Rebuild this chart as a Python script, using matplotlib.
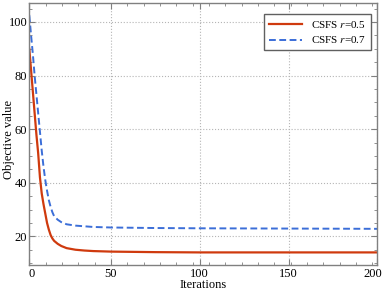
import matplotlib
matplotlib.use("Agg")
import matplotlib.pyplot as plt
import matplotlib.transforms as mtransforms
from matplotlib.ticker import AutoMinorLocator

# values
iters_r05 = [4, 5, 6, 7, 8, 9, 10, 11, 12, 13, 14, 15, 16, 17, 18, 20, 22, 25,
             30, 35, 40, 50, 75, 100, 150, 200]
obj_r05 = [90, 82, 74, 66, 58, 51, 42, 36, 32, 28.5, 25, 22.5, 20.5, 19.2, 18.3,
           17.2, 16.4, 15.6, 15.0, 14.7, 14.5, 14.3, 14.1, 14.0, 14.0, 14.0]

iters_r07 = [4, 5, 6, 7, 8, 9, 10, 11, 12, 13, 14, 15, 16, 17, 18, 20, 22, 25,
             30, 40, 50, 75, 100, 150, 200]
obj_r07 = [102.5, 95, 88, 80, 73, 66, 59, 52, 46, 41, 37, 33.5, 31, 29, 27.5,
           26.2, 25.3, 24.5, 24.0, 23.5, 23.3, 23.1, 23.0, 22.9, 22.8]

xticks = [4, 50, 100, 150, 200]
xtick_labels = ['0', '50', '100', '150', '200']
yticks = [20, 40, 60, 80, 100]

plt.rcParams['font.family'] = ['Liberation Serif', 'DejaVu Serif']
plt.rcParams['mathtext.fontset'] = 'stix'

fig = plt.figure(figsize=(3.82, 2.90), dpi=100)
ax = fig.add_axes([0.0767, 0.0862, 0.911, 0.9045])

ax.plot(iters_r05, obj_r05, color='#cf3a0e', lw=1.6, label='CSFS $r$=0.5')
ax.plot(iters_r07, obj_r07, color='#3b6ed8', lw=1.4, ls=(0, (3.5, 1.8)),
        label='CSFS $r$=0.7')

ax.set_xlim(4, 200)
ax.set_ylim(9.3, 107.2)
ax.set_xticks(xticks, xtick_labels)
ax.set_yticks(yticks)
ax.xaxis.set_minor_locator(AutoMinorLocator(5))
ax.yaxis.set_minor_locator(AutoMinorLocator(4))

ax.grid(True, which='major', ls=':', color='#b5b5b5', lw=0.8)
for s in ax.spines.values():
    s.set_color('#808080')
    s.set_linewidth(1.0)
ax.tick_params(which='both', direction='in', top=True, right=True,
               colors='#808080', labelcolor='black', labelsize=9)
ax.tick_params(which='major', length=4)
ax.tick_params(which='minor', length=2)
ax.tick_params(axis='x', pad=2.5)
ax.tick_params(axis='y', pad=1.5)

# nudge the end labels a little, as in the reference
labels = ax.get_xticklabels()
labels[0].set_transform(labels[0].get_transform() +
                        mtransforms.ScaledTranslation(2 / 100, 0, fig.dpi_scale_trans))
labels[-1].set_transform(labels[-1].get_transform() +
                         mtransforms.ScaledTranslation(-4 / 100, 0, fig.dpi_scale_trans))

ax.set_xlabel('Iterations', fontsize=9, labelpad=-1)
ax.set_ylabel('Objective value', fontsize=9)
ax.yaxis.set_label_coords(-0.0425, 0.48)

leg = ax.legend(loc='upper right', bbox_to_anchor=(0.982, 0.957),
                borderaxespad=0, fontsize=8, fancybox=False,
                edgecolor='#606060', framealpha=1,
                handlelength=3.0, borderpad=0.45, labelspacing=0.4)
leg.get_frame().set_linewidth(1.0)

fig.savefig('out.png', dpi=100)
